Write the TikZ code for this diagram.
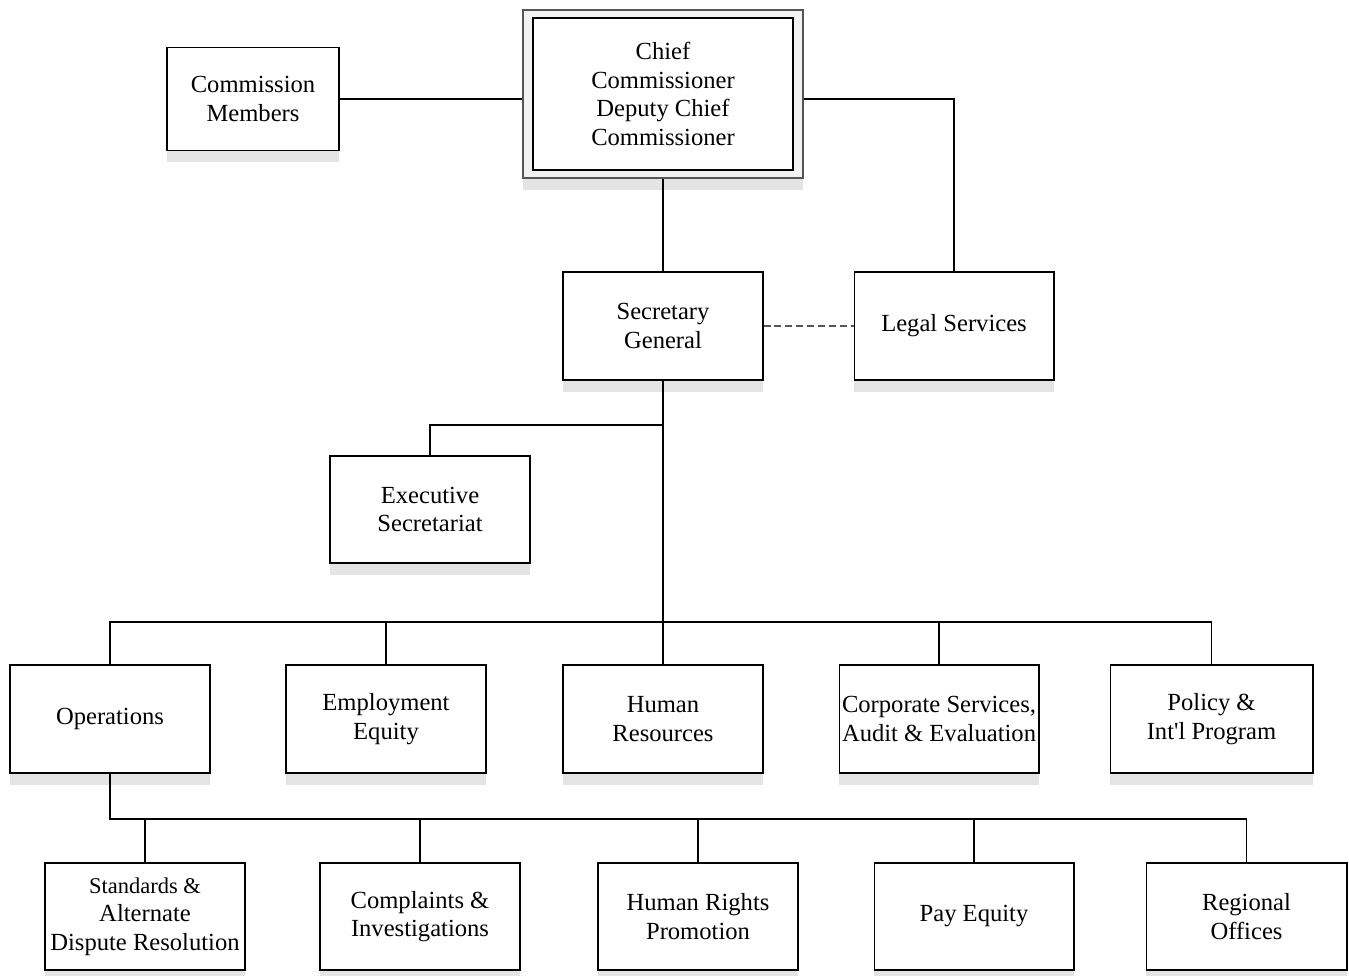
\documentclass[tikz,border=0pt]{standalone}
\usepackage{fontspec}
\setmainfont{Liberation Serif}
\usetikzlibrary{shadows}

\definecolor{shade}{HTML}{E4E4E4}
\definecolor{band}{HTML}{F2F2F2}
\definecolor{rim}{HTML}{555555}

\begin{document}
\begin{tikzpicture}[
  x=0.02cm, y=-0.02cm,
  unit/.style      = {draw, line width=0.6pt, fill=white, align=center,
                      minimum width=4cm, minimum height=2.16cm, inner sep=1pt,
                      font=\fontsize{14}{16.2}\selectfont,
                      drop shadow={shadow xshift=0pt, shadow yshift=-0.24cm,
                                   fill=shade, opacity=1}},
  head/.style      = {draw=rim, line width=0.8pt, fill=band,
                      minimum width=5.6cm, minimum height=3.36cm,
                      drop shadow={shadow xshift=0pt, shadow yshift=-0.24cm,
                                   fill=shade, opacity=1}},
  headin/.style    = {draw, line width=0.8pt, fill=white, align=center,
                      minimum width=5.2cm, minimum height=3.04cm,
                      font=\fontsize{14}{16.4}\selectfont},
  link/.style      = {line width=0.6pt},
  advice/.style    = {line width=0.6pt, draw=rim, dash pattern=on 4pt off 2.2pt},
]
  \useasboundingbox (0,0) rectangle (1349,976);

  % top of the chart
  \node[head]   (chief)   at (663,94) {};
  \node[headin] (chiefin) at (663,94)
    {Chief\\Commissioner\\Deputy Chief\\Commissioner};
  \node[unit, minimum width=3.44cm, minimum height=2.06cm] (comm) at (253,99)
    {Commission\\Members};

  \node[unit] (sec)   at (663,326) {Secretary\\General};
  \node[unit] (legal) at (954,326) {Legal Services};
  \node[unit, minimum height=2.14cm] (exec) at (430,509.5)
    {Executive\\Secretariat};

  % branches under the secretary general
  \node[unit] (ops)    at (110,719)  {Operations};
  \node[unit] (empl)   at (386,719)  {Employment\\Equity};
  \node[unit] (hr)     at (663,719)  {Human\\Resources};
  \node[unit] (corp)   at (939,719)  {Corporate Services,\\Audit \& Evaluation};
  \node[unit, minimum width=4.06cm] (policy) at (1211.5,719)
    {Policy \&\\Int\textquotesingle l Program};

  % operations and its sections
  \node[unit, minimum height=2.14cm] (std)   at (145,916.5)
    {\fontsize{12.8}{14.2}\selectfont Standards \&\\Alternate\\Dispute Resolution};
  \node[unit, minimum height=2.14cm] (compl) at (420,916.5)
    {Complaints \&\\Investigations};
  \node[unit, minimum height=2.14cm] (hrp)   at (698,916.5)
    {Human Rights\\Promotion};
  \node[unit, minimum height=2.14cm] (pay)   at (974,916.5) {Pay Equity};
  \node[unit, minimum height=2.14cm, minimum width=4.02cm] (reg) at (1246.5,916.5)
    {Regional\\Offices};

  \coordinate (split) at (663,425);
  \coordinate (bus)   at (663,622);
  \coordinate (opbus) at (110,819);

  \draw[link] (comm.east) -- (comm.east -| chief.west);
  \draw[link] (comm.east -| chief.east) -| (legal.north);
  \draw[link] (chief.south) -- (sec.north);
  \draw[advice] (sec.east) -- (legal.west);

  \draw[link] (sec.south) -- (bus);
  \draw[link] (split) -| (exec.north);
  \draw[link] (ops.north) |- (policy.north |- bus) -- (policy.north);
  \foreach \n in {empl,hr,corp}
    \draw[link] (\n.north) -- (\n.north |- bus);

  \draw[link] (ops.south) -- (opbus) -| (reg.north);
  \foreach \n in {std,compl,hrp,pay}
    \draw[link] (\n.north) -- (\n.north |- opbus);
\end{tikzpicture}
\end{document}
